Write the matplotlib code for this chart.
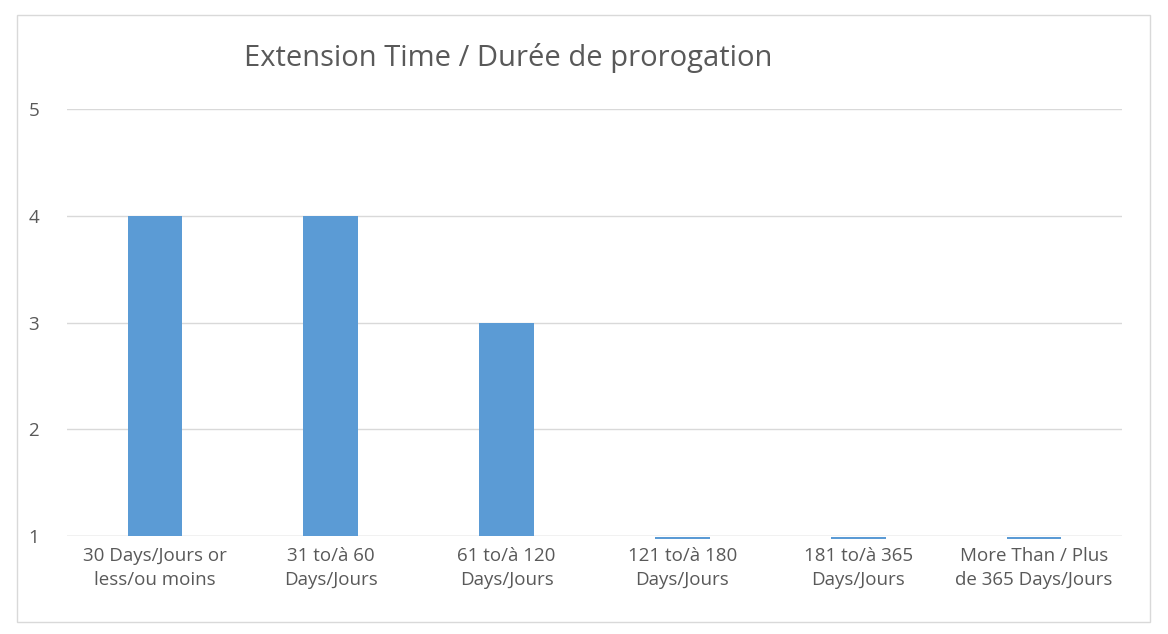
import matplotlib
matplotlib.use("Agg")
import matplotlib.pyplot as plt
from matplotlib.patches import Rectangle

categories = ["30 Days/Jours or\nless/ou moins", "31 to/à 60\nDays/Jours", "61 to/à 120\nDays/Jours",
              "121 to/à 180\nDays/Jours", "181 to/à 365\nDays/Jours", "More Than / Plus\nde 365 Days/Jours"]
values = [4, 4, 3, 0, 0, 0]
yticks = [1, 2, 3, 4, 5]

plt.rcParams['font.family'] = ['Open Sans', 'DejaVu Sans']
fig = plt.figure(figsize=(11.68, 6.34), dpi=100)
fig.patches.append(Rectangle((17/1168, 1-622/634), (1150-17)/1168, (622-15)/634,
                             transform=fig.transFigure, fill=False, edgecolor='#d9d9d9', lw=1))
ax = fig.add_axes([67/1168, 1-536/634, (1122-67)/1168, (536-109)/634])
color = '#5B9BD5'
x = list(range(len(categories)))
for xi, v in zip(x, values):
    if v >= 1:
        ax.bar(xi, v - 1, bottom=1, width=0.31, color=color, zorder=3)
    else:
        ax.bar(xi, 0.015, bottom=0.975, width=0.31, color=color, zorder=3, clip_on=False)
ax.set_xlim(-0.5, len(categories) - 0.5)
ax.set_ylim(1, 5)
ax.set_yticks(yticks)
ax.set_xticks(x)
ax.set_xticklabels(categories, fontsize=13.5, color='#595959', linespacing=1.4)
ax.tick_params(axis='y', labelsize=13.5, labelcolor='#595959', length=0, pad=20)
ax.tick_params(axis='x', length=0, pad=8)
ax.grid(axis='y', color='#d9d9d9', lw=1, zorder=0)
for s in ax.spines.values():
    s.set_visible(False)
ax.axhline(1, color='#d9d9d9', lw=1, zorder=2)
fig.text(508/1168, 1-58/634, "Extension Time / Durée de prorogation", fontsize=21,
         color='#595959', ha='center', va='center')
fig.savefig("out.png", dpi=100)
